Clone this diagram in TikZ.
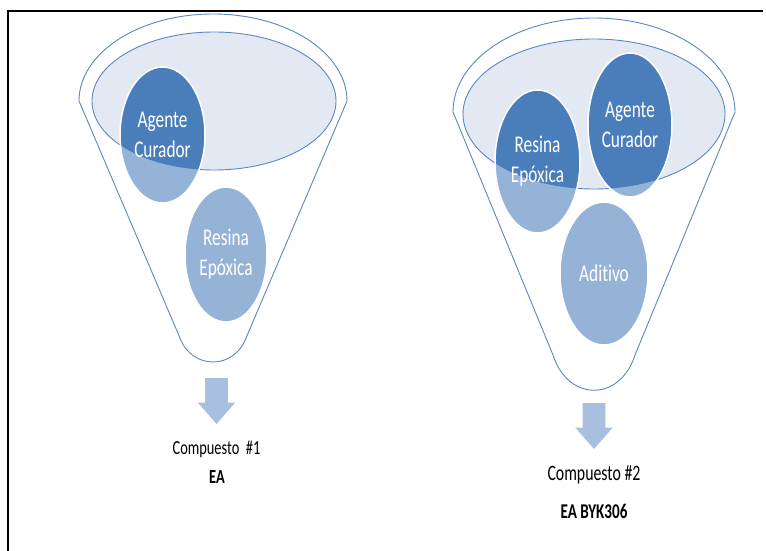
\documentclass[tikz,border=0pt]{standalone}
\usepackage{fontspec}
\usepackage{tikz}
\usetikzlibrary{shapes.geometric}
\newfontfamily\calfont[FakeStretch=0.72, Ligatures={NoCommon}]{Carlito}
\definecolor{funnelline}{HTML}{5B87C5}
\definecolor{rimfill}{HTML}{E3E9F3}
\definecolor{blobdark}{HTML}{4A7EBB}
\definecolor{bloblight}{HTML}{95B3D7}
\definecolor{arrowfill}{HTML}{A9BFE0}
% block arrow pointing down: #1 axis x, #2 top y
\newcommand{\downblock}[2]{%
  \fill[arrowfill] (#1-11.3,#2) -- (#1+11.3,#2) -- (#1+11.3,#2+24.5)
    -- (#1+18.8,#2+24.5) -- (#1,#2+46) -- (#1-18.8,#2+24.5)
    -- (#1-11.3,#2+24.5) -- cycle;}

\begin{document}
\begin{tikzpicture}[x=1pt, y=-1pt,
  funnel/.style={draw=funnelline, fill=white, line width=0.9pt, line join=round},
  rim/.style={ellipse, draw=funnelline, fill=rimfill, line width=0.9pt, inner sep=0pt},
  blob/.style={ellipse, fill=bloblight, draw=white, line width=1.5pt, inner sep=0pt,
    text=white, align=center, font=\calfont\fontsize{24}{30}\selectfont},
  inrim/.style n args={3}{path picture={\fill[blobdark] (#1.center) ellipse [x radius=#2, y radius=#3];}},
  caption/.style={anchor=base, font=\calfont\fontsize{20}{24}\selectfont}
]
\useasboundingbox (0,0) rectangle (766,551);
\draw[line width=2pt] (8,551) -- (8,11) -- (763,11);

% funnel 1: EA
\draw[funnel] (79,101) arc[start angle=180, end angle=360, x radius=134, y radius=87]
  -- (246,338) .. controls (234,370) and (192,370) .. (180,338) -- cycle;
\node[rim, minimum width=244pt, minimum height=138pt] (rimA) at (214,101) {};
\node[blob, minimum width=85pt, minimum height=136pt, inrim={rimA}{122pt}{69pt}]
  (agenteA) at (162.5,135) {Agente\\Curador};
\node[blob, minimum width=82pt, minimum height=135pt] (resinaA) at (226,254.5) {Resina\\Epóxica};
\downblock{216.5}{378}
\node[caption] (capA) at (216.5,454) {Compuesto\ \ \#1};
\node[caption, font=\calfont\bfseries\fontsize{20}{24}\selectfont] (nameA) at (217,483) {EA};

% funnel 2: EA BYK306
\draw[funnel] (453,112) arc[start angle=180, end angle=360, x radius=141, y radius=94]
  -- (635,355) .. controls (620,402) and (568,402) .. (553,355) -- cycle;
\node[rim, minimum width=262pt, minimum height=150pt] (rimB) at (594,114) {};
\node[blob, minimum width=85pt, minimum height=143pt, inrim={rimB}{131pt}{75pt}]
  (resinaB) at (537.5,161.5) {Resina\\Epóxica};
\node[blob, minimum width=84pt, minimum height=144pt, inrim={rimB}{131pt}{75pt}]
  (agenteB) at (630,125) {Agente\\Curador};
\node[blob, minimum width=88pt, minimum height=143pt] (aditivo) at (604,273.5) {Aditivo};
\downblock{594}{403}
\node[caption, font=\calfont\fontsize{22}{26}\selectfont] (capB) at (594,480) {Compuesto \#2};
\node[caption, font=\calfont\bfseries\fontsize{21}{25}\selectfont] (nameB) at (594,518) {EA BYK306};
\end{tikzpicture}
\end{document}
